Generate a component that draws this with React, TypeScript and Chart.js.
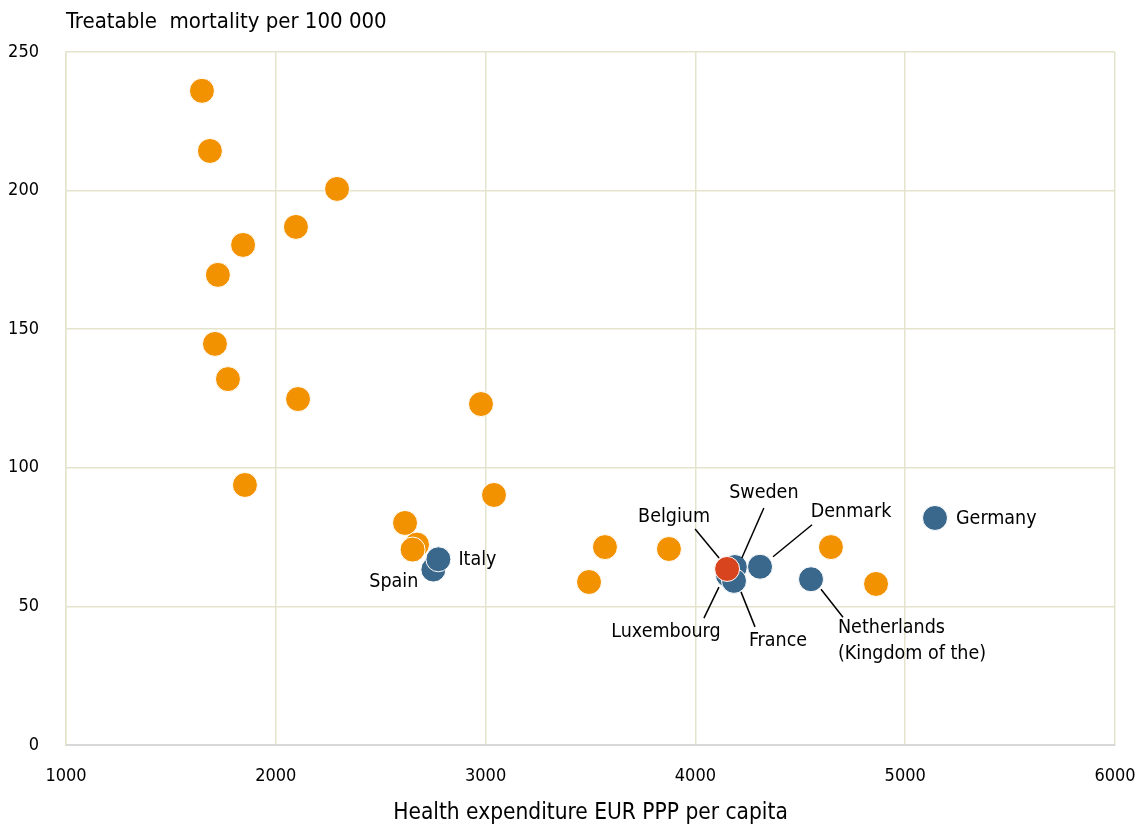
import React, { useEffect, useRef } from "react";
import { Chart, registerables } from "chart.js";

Chart.register(...registerables);

const otherSpend = [1648, 1686, 2292, 2096, 1844, 1724, 1710, 1772, 2106, 2978, 1853, 3040, 2616, 2673, 2652, 3569, 3493, 3874, 4646, 4861];
const otherMort = [236, 214.3, 200.6, 186.9, 180.4, 169.6, 144.7, 132, 124.8, 123, 93.8, 90.2, 80.1, 72.3, 70.5, 71.4, 58.8, 70.7, 71.4, 58.1];

const peerNames = ["Spain", "Italy", "Sweden", "Luxembourg", "France", "Denmark", "Netherlands", "Germany"];
const peerSpend = [2751, 2775, 4188, 4155, 4184, 4308, 4551, 5142];
const peerMort = [63.3, 67.0, 64.2, 61.3, 59.2, 64.3, 59.8, 81.9];

const focusName = ["Belgium"];
const focusSpend = [4151];
const focusMort = [63.5];

const xTicks = [1000, 2000, 3000, 4000, 5000, 6000];
const yTicks = [0, 50, 100, 150, 200, 250];

const yTitle = "Treatable  mortality per 100 000";
const xTitle = "Health expenditure EUR PPP per capita";

const FONT = "'Liberation Sans Narrow', 'DejaVu Sans Condensed', 'Liberation Sans', sans-serif";

// Annotation layout: text offset (dx, dy), alignment and optional leader line, relative to the point
type Ann = { lines: string[]; dx: number; dy: number; align: CanvasTextAlign; leader?: [number, number, number, number] };
const annotations: Record<string, Ann> = {
  Belgium: { lines: ["Belgium"], dx: -53, dy: -52, align: "center", leader: [-32, -40, -8, -11] },
  Sweden: { lines: ["Sweden"], dx: 29, dy: -74, align: "center", leader: [29, -59, 7, -9] },
  Denmark: { lines: ["Denmark"], dx: 91, dy: -55, align: "center", leader: [52, -42, 13, -10] },
  Netherlands: { lines: ["Netherlands", "(Kingdom of the)"], dx: 27, dy: 49, align: "left", leader: [10, 10, 32, 38] },
  Luxembourg: { lines: ["Luxembourg"], dx: -62, dy: 57, align: "center", leader: [-9, 12, -24, 43] },
  France: { lines: ["France"], dx: 44, dy: 60, align: "center", leader: [7, 11, 21, 46] },
  Germany: { lines: ["Germany"], dx: 21, dy: 1, align: "left" },
  Italy: { lines: ["Italy"], dx: 20, dy: 1, align: "left" },
  Spain: { lines: ["Spain"], dx: -15, dy: 12, align: "right" },
};

const labelPlugin = {
  id: "labelPlugin",
  afterDraw(chart: any) {
    const ctx = chart.ctx;
    const xs = chart.scales.x;
    const ys = chart.scales.y;
    const area = chart.chartArea;
    ctx.save();
    ctx.fillStyle = "#000";
    ctx.textBaseline = "middle";
    ctx.font = `22px ${FONT}`;
    ctx.textAlign = "left";
    ctx.fillText(yTitle, area.left, 22);
    ctx.font = `22.5px ${FONT}`;
    ctx.textAlign = "center";
    ctx.fillText(xTitle, (area.left + area.right) / 2, 813);

    const names = [...peerNames, ...focusName];
    const sx = [...peerSpend, ...focusSpend];
    const sy = [...peerMort, ...focusMort];
    ctx.font = `19.5px ${FONT}`;
    ctx.strokeStyle = "#000";
    ctx.lineWidth = 1.5;
    names.forEach((n, i) => {
      const a = annotations[n];
      if (!a) return;
      const px = xs.getPixelForValue(sx[i]);
      const py = ys.getPixelForValue(sy[i]);
      if (a.leader) {
        ctx.beginPath();
        ctx.moveTo(px + a.leader[0], py + a.leader[1]);
        ctx.lineTo(px + a.leader[2], py + a.leader[3]);
        ctx.stroke();
      }
      ctx.textAlign = a.align;
      a.lines.forEach((l, k) => ctx.fillText(l, px + a.dx, py + a.dy + k * 26));
    });
    ctx.restore();
  },
};

export default function App() {
  const ref = useRef<HTMLCanvasElement>(null);
  useEffect(() => {
    document.body.style.margin = "0";
    const toPts = (xa: number[], ya: number[]) => xa.map((x, i) => ({ x, y: ya[i] }));
    const chart = new Chart(ref.current!, {
      type: "scatter",
      data: {
        datasets: [
          { label: "Belgium", order: 0, data: toPts(focusSpend, focusMort), backgroundColor: "#D7441E", borderColor: "#fff", borderWidth: 1, pointRadius: 12.5 },
          { label: "Peers", order: 1, data: toPts(peerSpend, peerMort), backgroundColor: "#3A678C", borderColor: "#fff", borderWidth: 1, pointRadius: 12.5 },
          { label: "Other", order: 2, data: toPts(otherSpend, otherMort), backgroundColor: "#F39200", borderColor: "#fff", borderWidth: 1, pointRadius: 12.5 },
        ],
      },
      options: {
        responsive: false,
        animation: false,
        layout: { padding: { left: 8, right: 23, top: 52, bottom: 0 } },
        plugins: { legend: { display: false }, tooltip: { enabled: false }, title: { display: false } },
        scales: {
          x: {
            type: "linear",
            min: 1000,
            max: 6000,
            afterBuildTicks: (s: any) => { s.ticks = xTicks.map((v) => ({ value: v })); },
            afterFit: (s: any) => { s.height = 82; s.paddingLeft = 0; s.paddingRight = 0; },
            ticks: { color: "#000", font: { family: FONT, size: 18 }, padding: 21, maxRotation: 0, callback: (v: any) => String(v) },
            grid: { color: "#E4E4CC", lineWidth: 1.5, drawTicks: false },
            border: { color: "#D8D8D8", width: 2 },
          },
          y: {
            min: 0,
            max: 250,
            afterBuildTicks: (s: any) => { s.ticks = yTicks.map((v) => ({ value: v })); },
            afterFit: (s: any) => { s.width = 58; s.paddingTop = 0; s.paddingBottom = 0; },
            ticks: { color: "#000", font: { family: FONT, size: 18 }, padding: 27, callback: (v: any) => String(v) },
            grid: { color: (c: any) => (c.tick && c.tick.value === 0 ? "rgba(0,0,0,0)" : "#E4E4CC"), lineWidth: 1.5, drawTicks: false },
            border: { color: "#E4E4CC", width: 1.5 },
          },
        },
      },
      plugins: [labelPlugin],
    });
    return () => chart.destroy();
  }, []);
  return <canvas ref={ref} width={1138} height={827} style={{ display: "block" }} />;
}
